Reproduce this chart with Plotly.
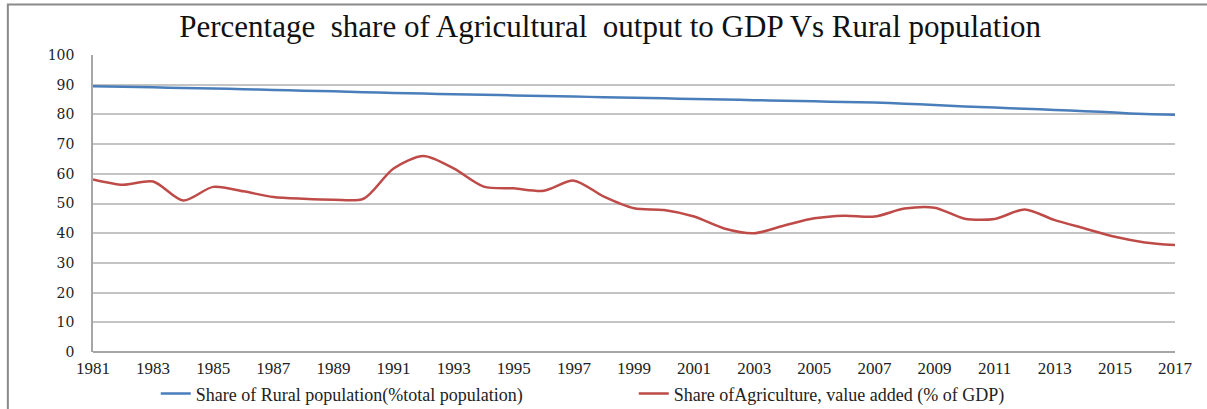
import plotly.graph_objects as go

# ── Data ──────────────────────────────────────────────────────────────────────
years = list(range(1981, 2018))

rural_pop = [
    89.5, 89.3, 89.1, 88.9, 88.7, 88.5, 88.2, 88.0, 87.8, 87.5,
    87.2, 87.0, 86.8, 86.6, 86.4, 86.2, 86.0, 85.8, 85.6, 85.4,
    85.2, 85.0, 84.8, 84.6, 84.4, 84.2, 84.0, 83.6, 83.2, 82.7,
    82.3, 81.9, 81.5, 81.1, 80.6, 80.1, 79.9,
]

agri_gdp = [
    58.1, 56.3, 57.4, 51.0, 55.6, 54.1, 52.2, 51.6, 51.3, 51.6,
    61.8, 66.0, 61.8, 55.7, 55.1, 54.3, 57.7, 52.3, 48.4, 47.8,
    45.6, 41.6, 40.0, 42.6, 45.0, 45.9, 45.6, 48.3, 48.6, 44.9,
    44.8, 48.0, 44.4, 41.6, 38.8, 36.9, 36.0,
]

x_ticks = list(range(1981, 2018, 2))
y_ticks = list(range(0, 101, 10))

TITLE = "Percentage  share of Agricultural  output to GDP Vs Rural population"
RURAL_NAME = "Share of Rural population(%total population)"
AGRI_NAME = "Share ofAgriculture, value added (% of GDP)"

SERIF = "Liberation Serif, Times New Roman, serif"
GRID = "#c4c4c4"

fig = go.Figure()
fig.add_trace(go.Scatter(
    x=years, y=rural_pop, name=RURAL_NAME, mode="lines",
    line=dict(color="#4a7ebb", width=2.5, shape="spline", smoothing=0.6),
))
fig.add_trace(go.Scatter(
    x=years, y=agri_gdp, name=AGRI_NAME, mode="lines",
    line=dict(color="#be4b48", width=2.5, shape="spline", smoothing=0.8),
))

# outer chart frame (runs off the right and bottom edges of the picture)
fig.add_shape(
    type="rect", xref="paper", yref="paper",
    x0=-0.0787, x1=1.2, y0=-0.4, y1=1.170,
    line=dict(color="#8a8a8a", width=2), layer="below",
)

fig.update_layout(
    width=1207, height=409,
    paper_bgcolor="white", plot_bgcolor="white",
    margin=dict(l=93, r=32, t=55, b=57, autoexpand=False),
    title=dict(
        text=TITLE, x=0.478, xref="paper", xanchor="center",
        y=0.935, yref="container", yanchor="middle",
        font=dict(family=SERIF, size=31, color="#111"),
    ),
    font=dict(family=SERIF, color="#222"),
    showlegend=True,
    legend=dict(
        orientation="h", x=0.058, xanchor="left", y=-0.141, yanchor="middle",
        xref="paper", yref="paper",
        entrywidth=433, entrywidthmode="pixels",
        font=dict(family=SERIF, size=18, color="#222"),
        itemwidth=30, bgcolor="rgba(0,0,0,0)",
    ),
    xaxis=dict(
        range=[1981, 2017], tickvals=x_ticks, ticktext=[str(t) for t in x_ticks],
        showgrid=False, zeroline=False, showline=False,
        ticks="", ticklabelstandoff=4,
        tickfont=dict(family=SERIF, size=17, color="#222"),
    ),
    yaxis=dict(
        range=[0, 100], tickvals=y_ticks,
        showgrid=True, gridcolor=GRID, gridwidth=1.5,
        zeroline=True, zerolinecolor="#a6a6a6", zerolinewidth=1.5,
        showline=True, linecolor="#a6a6a6", linewidth=1.5,
        ticks="", ticklabelstandoff=14,
        tickfont=dict(family="DejaVu Serif, serif", size=14, color="#222"),
    ),
)

# the page's default body margin would shift the figure by 8px
fig.write_html(
    "out.html",
    config={"displayModeBar": False},
    post_script="document.body.style.margin='0';",
)
